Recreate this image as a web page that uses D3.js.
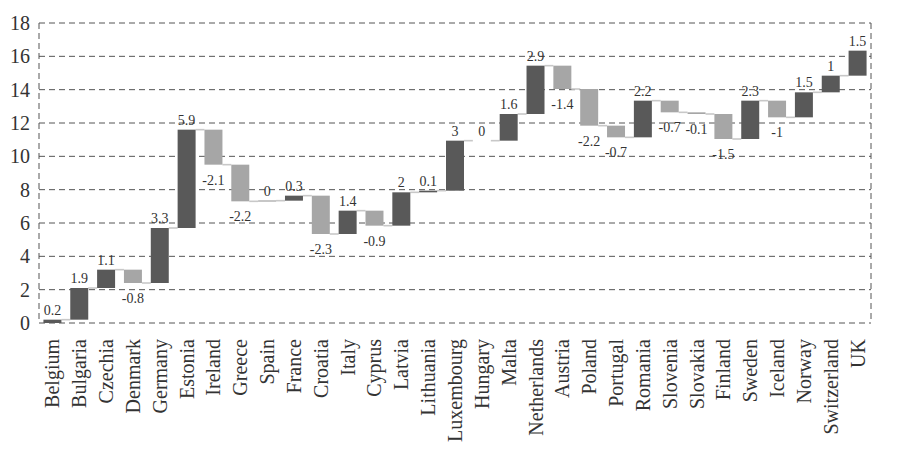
<!DOCTYPE html>
<html>
<head>
<meta charset="utf-8">
<script src="https://cdn.jsdelivr.net/npm/d3@7"></script>
<style>
  body{margin:0;background:#fff}
  svg{display:block}
</style>
</head>
<body>
<div id="chart"></div>
<script>
const countries = ['Belgium','Bulgaria','Czechia','Denmark','Germany','Estonia','Ireland','Greece','Spain','France',
  'Croatia','Italy','Cyprus','Latvia','Lithuania','Luxembourg','Hungary','Malta','Netherlands','Austria',
  'Poland','Portugal','Romania','Slovenia','Slovakia','Finland','Sweden','Iceland','Norway','Switzerland','UK'];
const changes = [0.2,1.9,1.1,-0.8,3.3,5.9,-2.1,-2.2,0.04,0.3,
  -2.3,1.4,-0.9,2,0.1,3,0,1.6,2.9,-1.4,
  -2.2,-0.7,2.2,-0.7,-0.1,-1.5,2.3,-1,1.5,1,1.5];
const yTicks = [0,2,4,6,8,10,12,14,16,18];

const W=900, H=459;
const m={l:39, r:29, t:23, b:136};
const FONT='"Liberation Serif","Times New Roman",serif';
const DARK='#595959', LIGHT='#a6a6a6', LINK='#c8c8c8', GRID='#555';

// running totals
let run=0;
const steps = countries.map((c,i)=>{
  const start=run; run+=changes[i];
  return {c, v:changes[i], start, end:run};
});

const svg=d3.select('#chart').append('svg').attr('width',W).attr('height',H);

const x=d3.scaleBand().domain(countries).range([m.l,W-m.r]).paddingInner(0.33).paddingOuter(0.165);
const y=d3.scaleLinear().domain([0,18]).range([H-m.b,m.t]);

// grid
svg.append('g').selectAll('line').data(yTicks).join('line')
  .attr('x1',m.l).attr('x2',W-m.r)
  .attr('y1',d=>y(d)).attr('y2',d=>y(d))
  .attr('stroke',GRID).attr('stroke-width',1).attr('stroke-dasharray','6,4');
[m.l, W-m.r].forEach(px=>{
  svg.append('line').attr('x1',px).attr('x2',px).attr('y1',y(18)).attr('y2',y(0))
    .attr('stroke',GRID).attr('stroke-width',1).attr('stroke-dasharray','6,4');
});

// y axis labels
svg.append('g').selectAll('text').data(yTicks).join('text')
  .attr('x',30).attr('y',d=>y(d)).attr('dy','0.35em')
  .attr('text-anchor','end').attr('font-family',FONT).attr('font-size','20px')
  .attr('fill','#333').text(d=>d);

// connectors
svg.append('g').selectAll('line').data(steps.slice(0,-1)).join('line')
  .attr('x1',d=>x(d.c)+x.bandwidth())
  .attr('x2',(d,i)=>x(countries[i+1]))
  .attr('y1',d=>y(d.end)).attr('y2',d=>y(d.end))
  .attr('stroke',LINK).attr('stroke-width',1.6);

// bars
svg.append('g').selectAll('rect').data(steps).join('rect')
  .attr('x',d=>x(d.c)).attr('width',x.bandwidth())
  .attr('y',d=>y(Math.max(d.start,d.end)))
  .attr('height',d=>Math.abs(y(d.start)-y(d.end)))
  .attr('fill',d=>d.v>=0?DARK:LIGHT);

// value labels
svg.append('g').selectAll('text').data(steps).join('text')
  .attr('x',d=>x(d.c)+x.bandwidth()/2)
  .attr('y',d=>d.v>=0? y(d.end)-5 : y(d.end)+20)
  .attr('text-anchor','middle').attr('font-family',FONT).attr('font-size','14px')
  .attr('fill','#333').text(d=>String(+d.v.toFixed(1)));

// category labels
svg.append('g').selectAll('text').data(countries).join('text')
  .attr('transform',d=>`translate(${x(d)+x.bandwidth()/2},${y(0)+16}) rotate(-90)`)
  .attr('dy','0.35em').attr('text-anchor','end')
  .attr('font-family',FONT).attr('font-size','20px').attr('fill','#333')
  .text(d=>d);
</script>
</body>
</html>
